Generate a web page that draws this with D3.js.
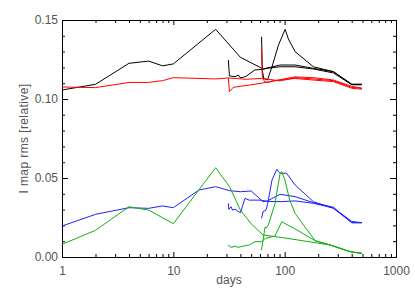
<!DOCTYPE html>
<html>
<head>
<meta charset="utf-8">
<script src="https://cdn.jsdelivr.net/npm/d3@7"></script>
<style>
  body { margin: 0; background: #fff; }
  svg { display: block; font-family: "Liberation Sans", Arial, sans-serif; }
  .axis text { font-size: 12px; fill: #555; }
  .axis path, .axis line { stroke: #000; }
</style>
</head>
<body>
<div id="chart"></div>
<script>
// day, relative rms, one array per curve
var blackA = [[1,0.1057],[2,0.1093],[4,0.1226],[6,0.124],[8,0.121],[10,0.1222],[24,0.1441],[40,0.1264],[51,0.1226],[64,0.119],[91,0.1215],[124,0.1215],[181,0.1194],[274,0.1173],[401,0.1093],[493,0.1093]];
var blackB = [[31.2,0.1247],[31.9,0.1146],[35.8,0.1141],[38.4,0.1152],[39.7,0.1135],[42.6,0.1137],[45.6,0.1146],[54,0.1184],[64,0.1188],[69,0.1194],[91,0.1204],[124,0.1204],[181,0.119],[274,0.1165],[401,0.109],[493,0.109]];
var blackC = [[62,0.1394],[63,0.118],[65,0.113],[70,0.112],[77,0.1204],[88,0.1342],[101,0.1441],[108,0.138],[124,0.130],[181,0.1204],[274,0.1173],[401,0.1093],[493,0.1093]];

var redA = [[1,0.1076],[2,0.1072],[4,0.1105],[6,0.1105],[8,0.1116],[10,0.1135],[24,0.1127],[31,0.1133],[45,0.1125],[62,0.113],[91,0.1115],[124,0.1135],[181,0.1127],[274,0.1116],[401,0.1074],[493,0.1068]];
var redB = [[31.2,0.1133],[31.9,0.1047],[34.6,0.1074],[49,0.1089],[62,0.110],[80,0.1115],[124,0.113],[181,0.112],[274,0.111],[401,0.1068],[493,0.1062]];
var redC = [[62,0.132],[63,0.114],[66,0.111],[70,0.1105],[80,0.1115],[124,0.114],[181,0.1135],[274,0.112],[401,0.108],[493,0.1068]];

var blueA = [[1,0.0196],[2,0.027],[4,0.0312],[6,0.0308],[8,0.0323],[10,0.0312],[17,0.0424],[24,0.0445],[32,0.042],[40,0.0413],[50,0.0418],[64,0.035],[70,0.0355],[91,0.0397],[124,0.0382],[181,0.0344],[274,0.0315],[401,0.0217],[493,0.0217]];
var blueB = [[31.2,0.034],[31.5,0.0302],[33,0.0318],[34,0.0297],[36,0.0302],[40,0.028],[44,0.0371],[48,0.036],[60,0.036],[70,0.0352],[91,0.035],[124,0.0355],[181,0.034],[274,0.031],[401,0.0225],[493,0.0217]];
var blueC = [[62,0.0245],[64,0.0287],[68,0.0297],[70.5,0.034],[77,0.0487],[85,0.0555],[88,0.054],[91,0.053],[104,0.053],[124,0.0456],[181,0.035],[274,0.0308],[401,0.0217],[493,0.0217]];

var greenA = [[1,0.008],[2,0.0169],[4,0.0318],[6,0.0297],[10,0.0211],[24,0.0565],[32,0.0445],[40,0.0297],[50,0.021],[64,0.0139],[91,0.0125],[256,0.0076],[387,0.0034],[493,0.0023]];
var greenB = [[31,0.0076],[33,0.0061],[36,0.0068],[38,0.0061],[42,0.0068],[48,0.0076],[54,0.0097],[62,0.0097],[67,0.0118],[82,0.0133],[94,0.0223],[121,0.0182],[188,0.0103],[256,0.0076],[387,0.0034],[493,0.0023]];
var greenC = [[62,0.0044],[66.7,0.019],[68,0.0183],[71.4,0.0203],[82,0.034],[91,0.053],[94.3,0.054],[100.6,0.0487],[111,0.036],[124,0.0276],[152,0.019],[188,0.0103],[256,0.0076],[387,0.0034],[493,0.0023]];

var curves = [
  {color: '#000000', values: blackA}, {color: '#000000', values: blackB}, {color: '#000000', values: blackC},
  {color: '#ff0000', values: redA}, {color: '#ff0000', values: redB}, {color: '#ff0000', values: redC},
  {color: '#2020ff', values: blueA}, {color: '#2020ff', values: blueB}, {color: '#2020ff', values: blueC},
  {color: '#10b010', values: greenA}, {color: '#10b010', values: greenB}, {color: '#10b010', values: greenC}
];

var xMajor = [1, 10, 100, 1000];
var yMajor = [0, 0.05, 0.10, 0.15];

var svg = d3.select('#chart').append('svg')
    .attr('width', 415)
    .attr('height', 297),
  margin = {top: 20, right: 19, bottom: 40, left: 62},
  width = 415 - margin.left - margin.right,
  height = 297 - margin.top - margin.bottom,
  g = svg.append('g').attr('transform', 'translate(' + margin.left + ',' + margin.top + ')');

var x = d3.scaleLog().domain([1, 1000]).range([0, width]),
  y = d3.scaleLinear().domain([0, 0.15]).range([height, 0]);

// minor ticks
var xMinor = [];
[1, 10, 100].forEach(function (d) { for (var k = 2; k <= 9; k++) xMinor.push(d * k); });
var yMinor = d3.range(0, 16).map(function (i) { return i / 100; }).filter(function (v) { return Math.round(v * 100) % 5 !== 0; });

g.append('g').attr('class', 'axis').attr('transform', 'translate(0,' + height + ')')
  .call(d3.axisBottom(x).tickValues(xMinor).tickSize(-3).tickSizeOuter(0).tickFormat(''));
g.append('g').attr('class', 'axis').attr('transform', 'translate(0,' + height + ')')
  .call(d3.axisBottom(x).tickValues(xMajor).tickSize(-5).tickSizeOuter(0).tickPadding(9).tickFormat(d3.format('d')));
g.append('g').attr('class', 'axis')
  .call(d3.axisTop(x).tickValues(xMinor).tickSize(-3).tickSizeOuter(0).tickFormat(''));
g.append('g').attr('class', 'axis')
  .call(d3.axisTop(x).tickValues(xMajor).tickSize(-5).tickSizeOuter(0).tickFormat(''));

g.append('g').attr('class', 'axis')
  .call(d3.axisLeft(y).tickValues(yMinor).tickSize(-3).tickSizeOuter(0).tickFormat(''));
g.append('g').attr('class', 'axis')
  .call(d3.axisLeft(y).tickValues(yMajor).tickSize(-6).tickSizeOuter(0).tickPadding(4).tickFormat(d3.format('.2f')));
g.append('g').attr('class', 'axis').attr('transform', 'translate(' + width + ',0)')
  .call(d3.axisRight(y).tickValues(yMinor).tickSize(-3).tickSizeOuter(0).tickFormat(''));
g.append('g').attr('class', 'axis').attr('transform', 'translate(' + width + ',0)')
  .call(d3.axisRight(y).tickValues(yMajor).tickSize(-6).tickSizeOuter(0).tickFormat(''));

g.selectAll('.axis text').attr('font-family', null);

var line = d3.line()
  .x(function (d) { return x(d[0]); })
  .y(function (d) { return y(d[1]); });

g.selectAll('.curve')
  .data(curves)
  .enter().append('path')
  .attr('class', 'curve')
  .attr('fill', 'none')
  .attr('stroke-width', 1)
  .attr('stroke', function (d) { return d.color; })
  .attr('d', function (d) { return line(d.values); });

svg.append('text')
  .attr('x', margin.left + width / 2)
  .attr('y', 284)
  .attr('text-anchor', 'middle')
  .style('font-size', '12px')
  .style('fill', '#555')
  .text('days');

svg.append('text')
  .attr('transform', 'translate(28,' + (margin.top + height / 2) + ') rotate(-90)')
  .attr('text-anchor', 'middle')
  .style('font-size', '12px')
  .style('fill', '#555')
  .style('letter-spacing', '0.4px')
  .text('I map rms [relative]');
</script>
</body>
</html>
